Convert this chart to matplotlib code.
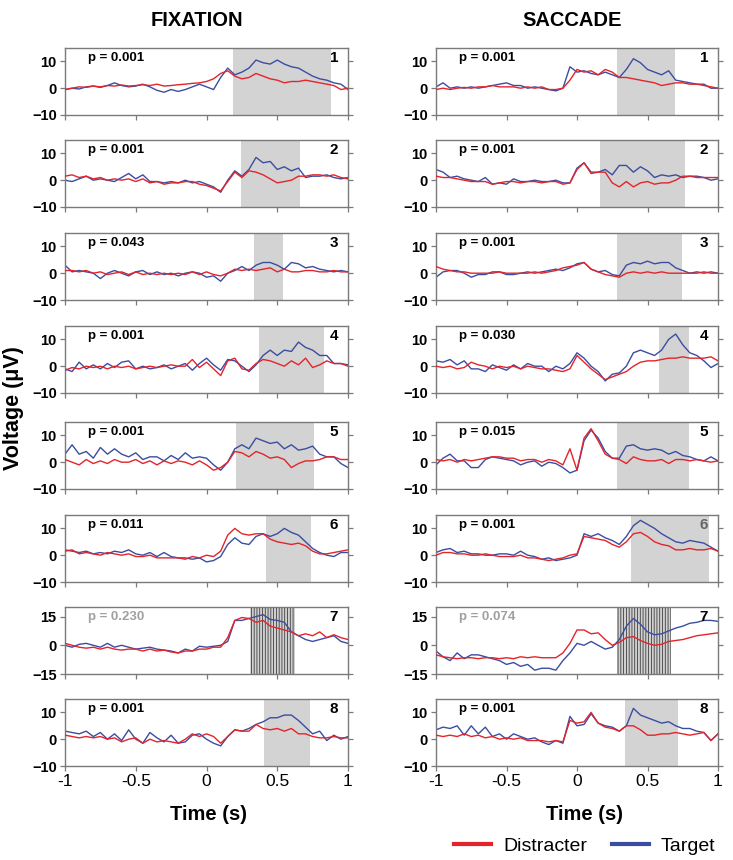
import numpy as np
import matplotlib
matplotlib.use("Agg")
import matplotlib.pyplot as plt
from matplotlib.lines import Line2D

plt.rcParams['font.family'] = ['Liberation Sans', 'DejaVu Sans']
plt.rcParams['hatch.linewidth'] = 0.55

# time grid (s)
time = np.linspace(-1, 1, 41)

# ---------------- FIXATION ----------------
fix_target = [
    [-0.5,0,-0.3,0.5,0.8,0.3,1,2,1,0.5, 0.8,1.5,0.5,-0.8,-1.5,-0.5,-1.2,-0.5,0.5,1.5, 0.5, -0.5,4,7.5,5,6,7.5,10.5,9.5,9,10.5, 9,8,7.5,6,4.5,3.5,3,2,1.5,-0.5],
    [0,-0.5,0.5,1.5,0,0.5,0,-0.5,1,2.5, 0.5,2,-0.5,-0.5,-1,-0.5,-1,0,-1,-0.5, -1.5, -2.5,-4.5,0,3.5,1.5,4,8.5,6.5,7,4, 5,3.5,4.5,1,1.5,1.5,2,1,0.5,1],
    [3,0.5,1,0.5,0,-2,0,1,0,-1, 0.5,1,-0.5,0.5,-0.5,0,-1,0,0.5,0, -1.5, -1,-3,0,1,2.5,1,3,4,4,3, 1.5,4,3.5,2,2.5,1.5,1,0.5,1,0.5],
    [-1,-2,1.5,-1,0.5,-1,1,-0.5,1.5,2, -1,0,-1,-0.5,0.5,-1,0,1,-1.5,1, 3, 0.5,-1.5,2.5,2,0,-2,0.5,4,6,4, 6,5.5,9,7,6,4,4,1,1,0.5],
    [3,6.5,3,4,1.5,5.5,3,5,3,2, 3.5,1,2,2,0.5,2.5,1,3.5,1.5,2, 1.5, -1,-3,0,5,6.5,5,9,8,7,7.5, 5,6.5,4.5,5,6,3,2,2,-0.5,-2],
    [2,1.5,1,1.5,0.5,1,0.5,1.5,1,2, 0.5,0,1,-0.5,1,-0.5,-1,-1,-1.5,-1, -2.5, -2,-0.5,4,6.5,4.5,4,7,8,7,8, 10,8.5,7.5,5,2.5,1,0,-0.5,1,1],
    [0,-1,0.5,1,0,-1,1,-1,0,-1, -2,-1.5,-1,-2,-2.5,-3,-4,-2,-3,-0.5, -1, -0.5,0,2,13,13,14,15,16,13.5,13, 12,7,5,3,2,3,4,5,2,1],
    [3,2.5,2,3,1,2.5,0,2,-0.5,3.5, 0,-1.5,2.5,0.5,-1,1.5,-1.5,-1,1.5,2, 0, -1.5,-2.5,1,3.5,3,4,5.5,6.5,8,8, 9,9,7,4.5,2,3,-0.5,1.5,0,1],
]
fix_distracter = [
    [-0.5,0,0.5,0.3,0.8,0.5,1,0.8,1.2,0.8, 1,1.3,1,1.5,0.8,1,1.3,1.5,1.8,2, 2.5, 3.5,5.5,6.5,4.5,3.5,4,5.5,4.5,3.5,3, 2,2.5,2.5,3,2.5,2,1.5,1,-0.5,0],
    [1.5,2,1,1.5,0.5,1,0,0.5,0,0.5, -0.5,0.5,-1,-0.5,-1.5,-1,-1,-0.5,-0.5,-1.5, -2, -3,-4,-0.5,3,1,3.5,3,2,0.5,-1, -0.5,0,1.5,1.5,2,2,1.5,2,1,0.5],
    [1,1,0.5,1,0,0.5,-0.5,0,0.5,-0.5, 0.5,-0.5,0,-0.5,0,-0.5,0,-0.5,0.5,-0.5, 0.5, -0.5,-1,0,1.5,1,1.5,1,1.5,2,0.5, 1.5,0.5,0.5,1,1,0.5,0.5,1,0.5,0.5],
    [-1.5,-0.5,-1,0,-0.5,0,-1,0,-0.5,0, -1,-0.5,0,-0.5,0,0.5,0,0,2.5,-0.5, 1.5, -1,-3.5,2,3,-1,-1.5,1,2.5,2,1, 0,2,0.5,3,-0.5,0.5,2,1,1,0],
    [1,0,-1,1,-0.5,0.5,-0.5,1,0,0, 1,-0.5,0.5,-1,0.5,-0.5,0.5,0,-1,0.5, -1, -3,-2,0,4,3.5,2,4,3,1.5,2, 1,-2,-0.5,0.5,0.5,1,2,2,1,1],
    [1.5,2,0.5,1,0.5,0,1,0.5,0,0.5, -0.5,-0.5,0,-1,-1,-1,-1,-1.5,-0.5,-1, 0, -0.5,1.5,7.5,10,8,7.5,8,8,6,5, 4.5,4,4.5,3.5,1.5,0.5,0.5,1,1.5,2],
    [1,0,-1,-1.5,-1,-2,-1,-2,-2.5,-2, -2,-3,-2,-3,-2.5,-3.5,-4,-3,-3,-2, -2, -1,-1,4,13,14.5,14,12,13,10,9, 8,7,5,6,5,7,4,5.5,4,3],
    [1.5,1,0.5,1,0.5,1,0,0.5,-1,0, 0.5,-1.5,0,-1,-0.5,-1,-1.5,0,2,1, 2, 1,-1.5,1,3.5,3,3,5.5,4,3.5,4, 3,4,2,2,1,0.5,0.5,1,0.5,0.5],
]
fix_window = [(0.19, 0.88), (0.243, 0.663), (0.337, 0.54), (0.373, 0.833),
              (0.208, 0.757), (0.42, 0.741), (0.304, 0.627), (0.403, 0.729)]
fix_p = ["0.001", "0.001", "0.043", "0.001", "0.001", "0.011", "0.230", "0.001"]

# ---------------- SACCADE ----------------
sac_target = [
    [0.5,2,0,0.5,0,0.5,0,0.5,1,1.5, 2,1,1,0,0.5,0,-0.5,-1,0,8, 6, 6.5,5.5,5,6,5,4,7,11,9.5,7, 6,5,6.5,3,2.5,2,1.5,1.5,0,0],
    [4,3,1,1.5,0.5,0,-0.5,1,-1.5,-1, -1.5,0.5,-0.5,-0.5,0,-0.5,-0.5,0,-1,-1, 4.5, 6.5,3,3,4,2,5.5,5.5,3,5,3.5, 1,2,1.5,2,1,1.5,1.5,1,0,0.5],
    [-1.5,0.5,1,1,0,-1.5,-0.5,-0.5,0.5,0.5, -0.5,-0.5,0,0.5,0,0.5,1,1.5,1,2, 3.5, 4,1.5,0.5,1,-0.5,-1,3,4,3.5,4.5, 3.5,4,4,2,1,0,0.5,0,0.5,0],
    [2,1.5,2.5,0.5,2,-1,-1,-2,0.5,-0.5, -1.5,0.5,-1,1,0,0,-2,0,-1,1, 5, 3,0,-2,-5.5,-3,-2.5,0,5,6,5, 4,6,10,12,8,5,4,2,-0.5,1],
    [-1,1.5,3,0.5,0.5,-2,-2,1,2,1.5, 1,0.5,-1,0,0.5,-1.5,0,-0.5,-2,-4, -3, 8,12,9,4,1.5,1.5,6,6.5,5,4.5, 5,4.5,3,4,2.5,2,1,0.5,2,0.5],
    [1,2,2.5,1,1.5,0.5,0.5,0,0,0.5, 0.5,0,1.5,0,-0.5,-1.5,-1,-2,-1.5,-1, 0, 8,7,8,6.5,5.5,4,7,11,13,11.5, 10,8,6.5,5,4.5,5.5,5,4.5,3,1.5],
    [-3,-6,-8,-4,-7,-5,-5,-6,-7,-8, -10,-9,-11,-10,-13,-12,-12,-13,-8,-4, 1, 0,2,0,-2,-1,3,10,14,11,7, 5.5,6,7.5,9,10,11.5,12,13,13,12.5],
    [3.5,4.5,4,5,1.5,5,2,4.5,1,2, 0,2,1,0,0.5,-1,-2,-0.5,-1.5,8.5, 5, 5.5,9.5,6,5,4.5,3,5,11.5,9,8, 7,6,6.5,5,4,4,3,2.5,-0.5,2],
]
sac_distracter = [
    [-0.5,0,-0.5,0,0.3,0,0.5,0.5,1,0.5, 0.5,0.5,0,0.5,0,0.5,-0.5,-0.5,0,3, 7, 6,6.5,5,7,6,4,4,3.5,3,2.5, 2,1,1.5,2,2,1.5,1.5,1,0.5,0],
    [1.5,1,1,0.5,0,-0.5,-0.5,-0.5,-1.5,-1, -0.5,-0.5,-1,-0.5,-0.5,-1,-0.5,-0.5,-1.5,-1, 4, 6.5,2.5,3,3,-1,-2.5,-0.5,-2.5,-1,-0.5, -1.5,-1,-1,0,1.5,1.5,1,1,1,1],
    [2.5,1.5,1,0.5,0.5,0,0,0,0,0.5, 0,0,0,0,0.5,0,0.5,1,2,2.5, 3, 4,1.5,0.5,-0.5,-1,-1.5,0,0.5,0,0.5, 0,0.5,0,0,0,0,0,0.5,0,0],
    [0,-0.5,0,-1,-0.5,1.5,0.5,0,-1,0, -0.5,0,-1,0,-0.5,-1,-1,-1.5,-2,-1, 4, 1.5,-1,-3,-5,-4,-3,-2,0,1.5,2, 2,2.5,3,3,3.5,3,3,3,3.5,2],
    [1,0.5,1,0,1,0.5,1,1.5,2,2, 1.5,1.5,0.5,1,1,0,1,0.5,-1,5, -3, 9,12.5,8,3,1.5,1,-0.5,2,1,0.5, 0.5,1,-0.5,1,1,0.5,1,0.5,0,0.5],
    [0,1,1,0.5,0.5,0,0,0.5,0,-0.5, -0.5,-0.5,0,-1,-1,-1.5,-2,-1.5,-1,0, 0.5, 7,6.5,6,5.5,4,3,5,8,8.5,7, 5,4,3.5,2,2,2.5,2,2,2.5,1.5],
    [-5,-6,-6.5,-7,-6.5,-6.5,-7,-6.5,-6.5,-7, -6.5,-7,-6,-6.5,-6,-6.5,-6.5,-6.5,-4,1, 8, 8,6,6.5,3,0,1.5,4,4.5,2.5,1, 0,0.5,2,2.5,3,4,5,5.5,6,6.5],
    [1.5,1,1.5,1,2,1,1.5,0.5,1,0, 0.5,0,0.5,-0.5,-0.5,-0.5,-1,-0.5,-1,7, 6, 6.5,10,6,4.5,4,3,5,5,3.5,1.5, 1.5,2,2,2.5,2,1.5,2,2.5,-0.5,2],
]
sac_window = [(0.284, 0.697), (0.165, 0.768), (0.284, 0.745), (0.581, 0.792),
              (0.284, 0.792), (0.381, 0.936), (0.286, 0.667), (0.338, 0.716)]
sac_p = ["0.001", "0.001", "0.001", "0.030", "0.015", "0.001", "0.074", "0.001"]

x_ticklabels = ['-1', '-0.5', '0', '0.5', '1']
nonsig_panel = 7  # panel with hatched (non-significant) window
red = '#e3242b'
blue = '#3b4da0'
spine_c = '#7a7a7a'

W, H = 733, 860
fig = plt.figure(figsize=(W / 100, H / 100), dpi=100)
tops = [48, 140, 233, 326, 422, 515, 607, 699]
ph = 67
cols = [(65, 283), (436, 282)]

datasets = [(fix_target, fix_distracter, fix_window, fix_p),
            (sac_target, sac_distracter, sac_window, sac_p)]

for ci, (x0, wpx) in enumerate(cols):
    tgt, dis, win, pv = datasets[ci]
    for r in range(8):
        assert len(tgt[r]) == 41 and len(dis[r]) == 41, (ci, r)
        ax = fig.add_axes([x0 / W, 1 - (tops[r] + ph) / H, wpx / W, ph / H])
        panel = r + 1
        if panel == nonsig_panel:
            ax.axvspan(win[r][0], win[r][1], facecolor='#d0d0d0', edgecolor='#303030',
                       hatch='||||||', linewidth=0, zorder=0)
            ax.set_ylim(-15, 20)
            ax.set_yticks([-15, 0, 15])
        else:
            ax.axvspan(win[r][0], win[r][1], facecolor='#d3d3d3', edgecolor='none', zorder=0)
            ax.set_ylim(-10, 15)
            ax.set_yticks([-10, 0, 10])
        ax.plot(time, tgt[r], color=blue, lw=1.0, zorder=2)
        ax.plot(time, dis[r], color=red, lw=1.0, zorder=3)
        ax.set_xlim(-1, 1)
        ax.set_xticks([-1, -0.5, 0, 0.5, 1])
        for s in ax.spines.values():
            s.set_color(spine_c)
            s.set_linewidth(1.0)
        ax.tick_params(direction='out', length=3.5, width=0.9, color=spine_c,
                       right=True, labelsize=10, pad=2.5)
        for lab in ax.get_yticklabels():
            lab.set_fontweight('bold')
            lab.set_fontsize(10.5)
        if r < 7:
            ax.set_xticklabels([])
        else:
            ax.set_xticklabels(x_ticklabels, fontsize=12.5)
        pcol = '#a0a0a0' if panel == nonsig_panel else 'black'
        ax.text(0.08, 0.855, f"p = {pv[r]}", transform=ax.transAxes, fontsize=9.5,
                fontweight='bold', color=pcol, va='center', ha='left')
        ncol = '#666666' if (ci == 1 and panel == 6) else 'black'
        ax.text(0.965, 0.855, str(panel), transform=ax.transAxes, fontsize=11,
                fontweight='bold', color=ncol, va='center', ha='right')

fig.text(197 / W, 1 - 20 / H, 'FIXATION', ha='center', va='center',
         fontsize=14.5, fontweight='bold')
fig.text(572 / W, 1 - 20 / H, 'SACCADE', ha='center', va='center',
         fontsize=14.5, fontweight='bold')
fig.text(14 / W, 1 - 408 / H, 'Voltage (μV)', rotation=90, ha='center',
         va='center', fontsize=15.5, fontweight='bold')
fig.text(208 / W, 1 - 815 / H, 'Time (s)', ha='center', va='center',
         fontsize=14.5, fontweight='bold')
fig.text(584 / W, 1 - 815 / H, 'Time (s)', ha='center', va='center',
         fontsize=14.5, fontweight='bold')

handles = [Line2D([], [], color=red, lw=3), Line2D([], [], color=blue, lw=3)]
fig.legend(handles, ['Distracter', 'Target'], loc='center',
           bbox_to_anchor=(585 / W, 1 - 846 / H), ncol=2, frameon=False,
           fontsize=14, handlelength=1.9, columnspacing=1.3, handletextpad=0.6,
           borderpad=0)

fig.savefig('out.png', dpi=100)
